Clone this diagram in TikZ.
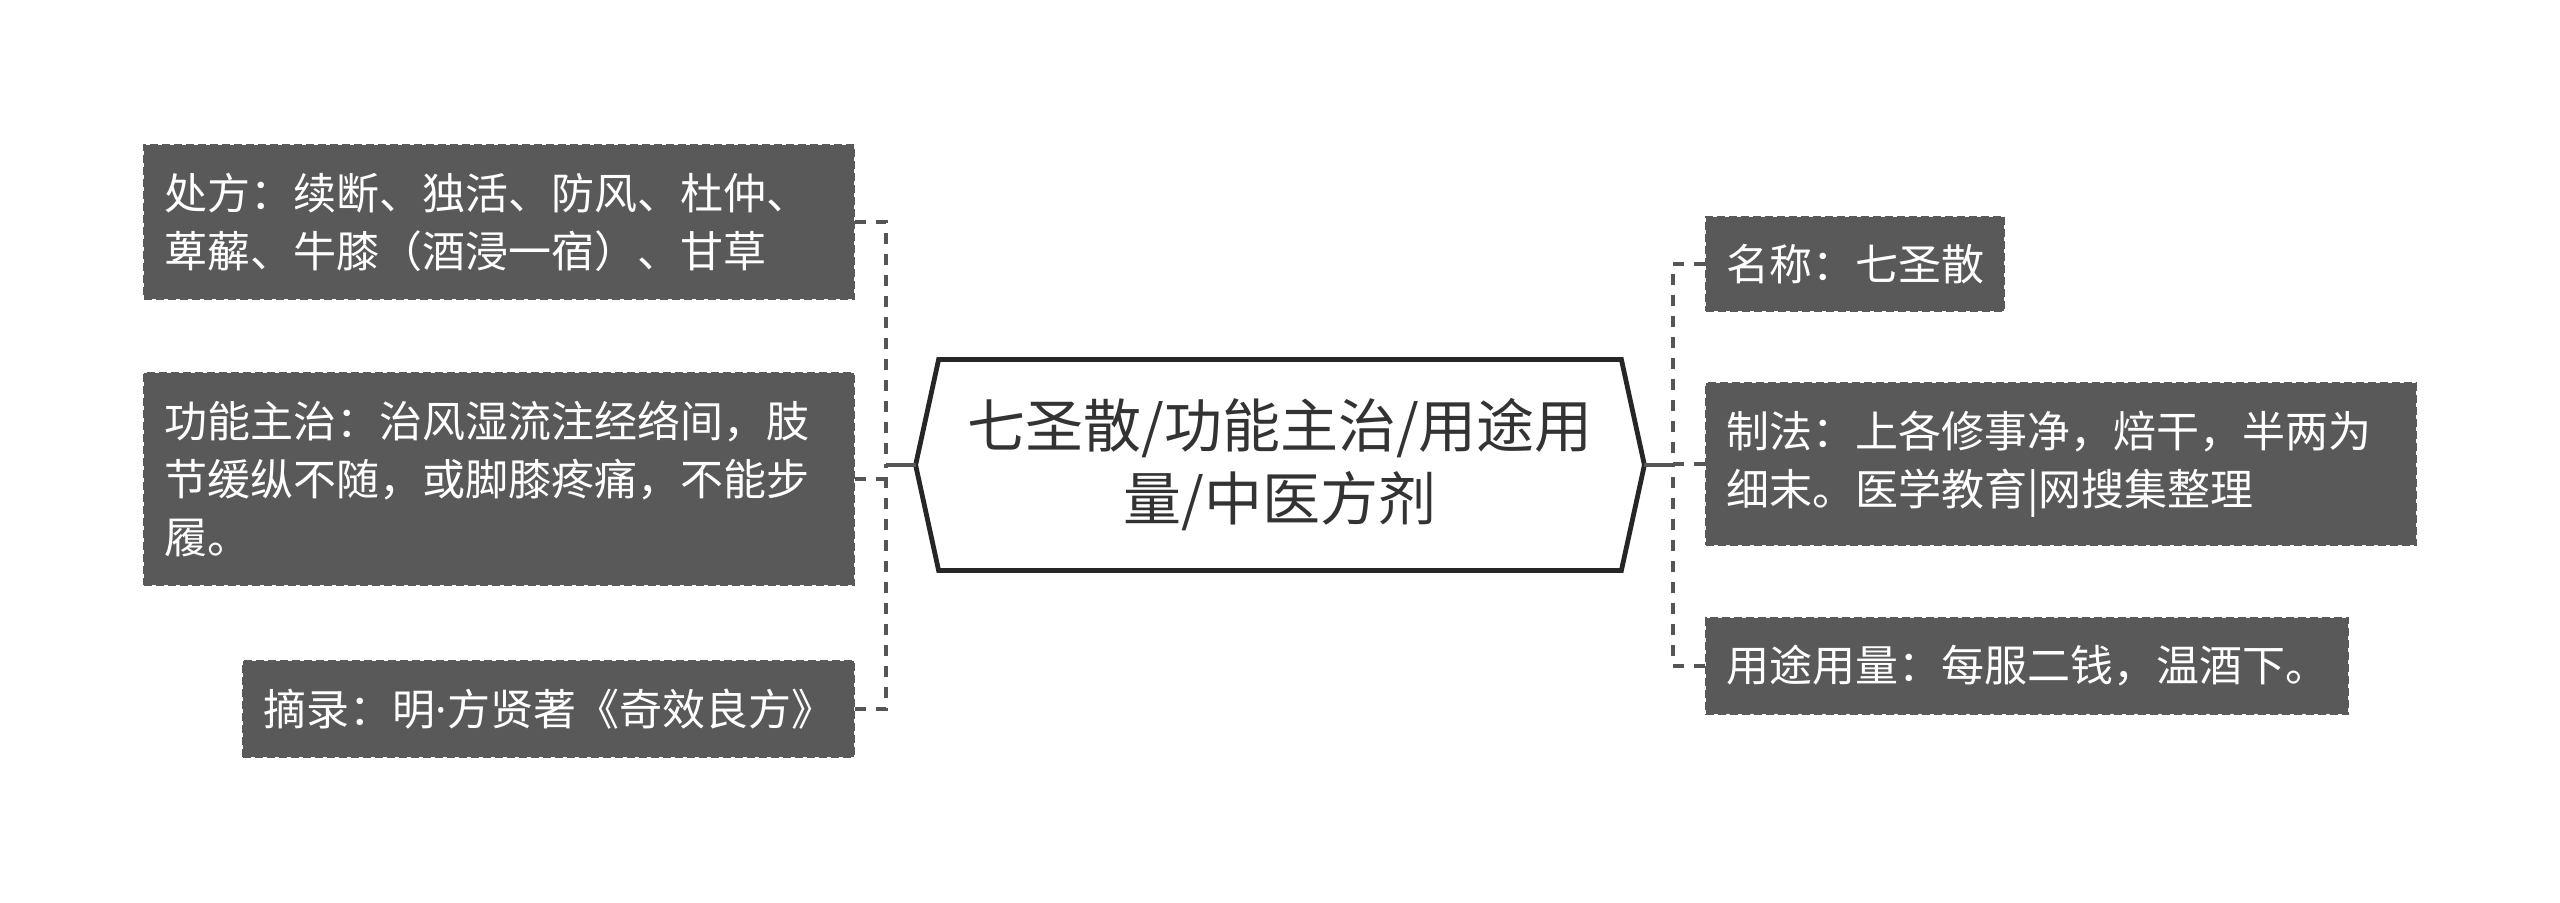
\documentclass[tikz,border=0pt]{standalone}
\usepackage{fontspec}
\usepackage{tikz}
\newfontfamily\cjk{Noto Sans CJK SC}
\newfontfamily\latinfont{Noto Sans}
\definecolor{boxgray}{HTML}{595959}
\definecolor{linkgray}{HTML}{555555}
\definecolor{rootline}{HTML}{262626}
\definecolor{roottext}{HTML}{333333}

\begin{document}
\begin{tikzpicture}[x=0.5pt, y=-0.5pt,
  leaf/.style={fill=boxgray, draw=boxgray, line width=1pt, dash pattern=on 4pt off 2pt, text=white, font=\cjk\fontsize{21.5pt}{29pt}\selectfont, inner xsep=10pt, inner ysep=13.8pt, align=left},
  wideleaf/.style={leaf, text width=335pt},
  link/.style={draw=linkgray, line width=2pt, dash pattern=on 5.5pt off 5pt},
  trunk/.style={draw=linkgray, line width=2pt}]
  \useasboundingbox (0,0) rectangle (2560,903);
  \node[minimum width=341pt, minimum height=105pt, inner sep=0pt, align=center, text=roottext, font=\cjk\fontsize{29pt}{36.5pt}\selectfont] (root) at (1280,465) {七圣散/功能主治/用途用\\量/中医方剂};
  \draw[rootline, line width=2.4pt] (root.north west) -- (root.north east) -- ([xshift=11.5pt]root.east) -- (root.south east) -- (root.south west) -- ([xshift=-11.5pt]root.west) -- cycle;
  \coordinate (rootL) at ([xshift=-11.5pt]root.west);
  \coordinate (rootR) at ([xshift=11.5pt]root.east);
  \node[wideleaf, anchor=east] (L1) at (855,222) {处方：续断、独活、防风、杜仲、\\萆薢、牛膝（酒浸一宿）、甘草};
  \node[wideleaf, anchor=east] (L2) at (855,479) {功能主治：治风湿流注经络间，肢\\节缓纵不随，或脚膝疼痛，不能步\\履。};
  \node[leaf, anchor=east] (L3) at (855,709) {摘录：明{\latinfont ·}方贤著《奇效良方》};
  \node[leaf, anchor=west] (R1) at (1705,264) {名称：七圣散};
  \node[wideleaf, anchor=west] (R2) at (1705,464) {制法：上各修事净，焙干，半两为\\细末。医学教育|网搜集整理};
  \node[leaf, anchor=west] (R3) at (1705,666) {用途用量：每服二钱，温酒下。};
  \coordinate (ljoin) at (886,465);
  \coordinate (rjoin) at (1673,465);
  \draw[trunk] (rootL) -- (ljoin);
  \draw[trunk] (rootR) -- (rjoin);
  \foreach \n in {L1,L2,L3}
    \draw[link] (\n.east) -| (ljoin);
  \foreach \n in {R1,R2,R3}
    \draw[link] (\n.west) -| (rjoin);
\end{tikzpicture}
\end{document}
